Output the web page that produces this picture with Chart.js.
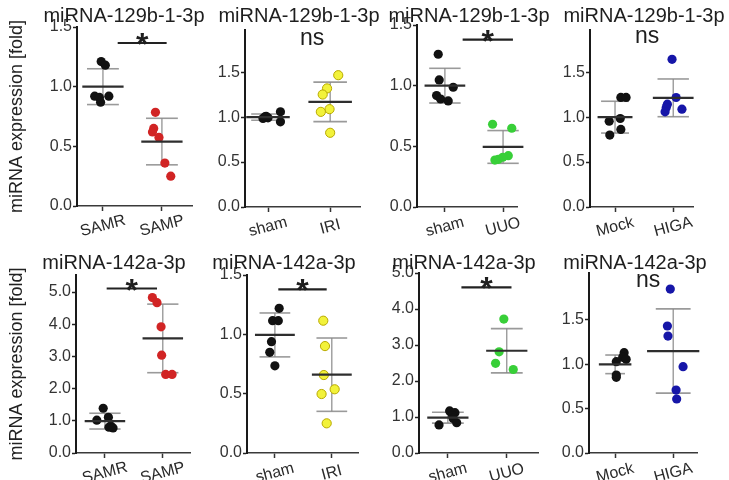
<!DOCTYPE html>
<html>
<head>
<meta charset="utf-8">
<script src="https://cdn.jsdelivr.net/npm/chart.js@4.4.0/dist/chart.umd.min.js"></script>
<style>
  body { margin: 0; background: #fff; width: 729px; height: 480px; position: relative; overflow: hidden; }
  .painel { position: absolute; }
</style>
</head>
<body>
<div id="figura"></div>
<script>
// ===== DADOS =====
const TIT_129 = 'miRNA-129b-1-3p';
const TIT_142 = 'miRNA-142a-3p';
const EIXO_Y = 'miRNA expression [fold]';

// painel 1 - SAMR x SAMP (129b)
const p1Grupos = ['SAMR', 'SAMP'];
const p1A    = [1.21, 1.18, 0.92, 0.91, 0.92, 0.87];
const p1AJit = [-0.03, 0.04, -0.14, -0.06, 0.10, -0.04];
const p1B    = [0.785, 0.65, 0.62, 0.575, 0.36, 0.25];
const p1BJit = [-0.11, -0.14, -0.16, -0.05, 0.05, 0.15];
const p1Media = [1.0, 0.54];
const p1DP    = [0.15, 0.195];
const p1Sig   = ['*', 1.25, 2.08, 1.366];

// painel 2 - sham x IRI (129b)
const p2Grupos = ['sham', 'IRI'];
const p2A    = [0.986, 1.003, 0.992, 1.01, 1.059, 0.948];
const p2AJit = [-0.08, -0.05, 0.0, -0.03, 0.2, 0.2];
const p2B    = [1.467, 1.32, 1.252, 1.089, 1.059, 0.826];
const p2BJit = [0.13, -0.05, -0.12, -0.01, -0.15, 0.0];
const p2Media = [1.0, 1.17];
const p2DP    = [0.035, 0.22];
const p2Sig   = ['ns', 1.71, 1.71, 1.8];

// painel 3 - sham x UUO (129b)
const p3Grupos = ['sham', 'UUO'];
const p3A    = [1.259, 1.047, 0.987, 0.918, 0.89, 0.874];
const p3AJit = [-0.115, -0.098, 0.143, -0.143, -0.074, 0.057];
const p3B    = [0.682, 0.649, 0.423, 0.41, 0.393, 0.387];
const p3BJit = [-0.18, 0.15, 0.09, -0.005, -0.08, -0.14];
const p3Media = [1.0, 0.495];
const p3DP    = [0.143, 0.135];
const p3Sig   = ['*', 1.305, 2.17, 1.38];

// painel 4 - Mock x HIGA (129b)
const p4Grupos = ['Mock', 'HIGA'];
const p4A    = [1.22, 1.22, 0.985, 0.955, 0.863, 0.80];
const p4AJit = [0.1, 0.19, 0.09, -0.1, 0.1, -0.09];
const p4B    = [1.644, 1.219, 1.144, 1.107, 1.089, 1.059];
const p4BJit = [-0.02, 0.05, -0.1, -0.12, 0.15, -0.14];
const p4Media = [1.0, 1.215];
const p4DP    = [0.177, 0.21];
const p4Sig   = ['ns', 1.55, 1.55, 1.83];

// painel 5 - SAMR x SAMP (142a)
const p5Grupos = ['SAMR', 'SAMP'];
const p5A    = [1.39, 1.02, 1.11, 0.84, 0.80, 0.78];
const p5AJit = [-0.03, -0.14, 0.06, 0.1, 0.07, 0.14];
const p5B    = [4.83, 4.67, 3.92, 3.04, 2.44, 2.44];
const p5BJit = [-0.18, -0.1, -0.03, -0.02, 0.05, 0.16];
const p5Media = [0.99, 3.56];
const p5DP    = [0.245, 1.065];
const p5Sig   = ['*', 1.03, 1.9, 5.11];

// painel 6 - sham x IRI (142a)
const p6Grupos = ['sham', 'IRI'];
const p6A    = [1.219, 1.115, 1.115, 0.938, 0.848, 0.735];
const p6AJit = [0.075, -0.04, 0.06, -0.06, -0.09, 0.0];
const p6B    = [1.115, 0.901, 0.657, 0.537, 0.497, 0.25];
const p6BJit = [-0.15, -0.12, -0.14, 0.05, -0.18, -0.09];
const p6Media = [0.995, 0.66];
const p6DP    = [0.185, 0.309];
const p6Sig   = ['*', 1.06, 1.91, 1.379];

// painel 7 - sham x UUO (142a)
const p7Grupos = ['sham', 'UUO'];
const p7A    = [1.17, 1.12, 1.04, 0.96, 0.84, 0.78];
const p7AJit = [0.03, 0.12, 0.08, 0.09, 0.15, -0.15];
const p7B    = [3.72, 2.81, 2.49, 2.32];
const p7BJit = [-0.05, -0.13, -0.19, 0.11];
const p7Media = [0.98, 2.84];
const p7DP    = [0.15, 0.615];
const p7Sig   = ['*', 1.23, 2.08, 4.6];

// painel 8 - Mock x HIGA (142a)
const p8Grupos = ['Mock', 'HIGA'];
const p8A    = [1.131, 1.079, 1.056, 1.03, 0.879, 0.853];
const p8AJit = [0.155, 0.13, 0.19, 0.02, 0.02, 0.02];
const p8B    = [1.849, 1.432, 1.319, 0.973, 0.71, 0.609];
const p8BJit = [-0.05, -0.1, -0.09, 0.17, 0.05, 0.06];
const p8Media = [1.0, 1.15];
const p8DP    = [0.105, 0.475];
const p8Sig   = ['ns', 1.57, 1.57, 1.875];

// ===== CORES =====
const PRETO    = { fill: '#111111', borda: '#111111', bw: 0 };
const VERMELHO = { fill: '#d12424', borda: '#d12424', bw: 0 };
const AMARELO  = { fill: '#f2f23a', borda: '#b8a900', bw: 1 };
const VERDE    = { fill: '#38cf38', borda: '#38cf38', bw: 0 };
const AZUL     = { fill: '#1616a8', borda: '#1616a8', bw: 0 };
const FONTE = '"Liberation Sans", Arial, sans-serif';

// ===== PAINEIS =====
const paineis = [
  { titulo: TIT_129, grupos: p1Grupos, a: p1A, aJit: p1AJit, b: p1B, bJit: p1BJit, media: p1Media, dp: p1DP, sig: p1Sig,
    cores: [PRETO, VERMELHO], box: [0, 0, 210, 240], yW: 77, padT: 27, padR: 18, xH: 34,
    yMax: 1.5, passo: 0.5, xMin: 0.56, xMax: 2.51, titX: 124, eixoY: true },
  { titulo: TIT_129, grupos: p2Grupos, a: p2A, aJit: p2AJit, b: p2B, bJit: p2BJit, media: p2Media, dp: p2DP, sig: p2Sig,
    cores: [PRETO, AMARELO], box: [200, 0, 185, 240], yW: 45, padT: 30, padR: 25, xH: 33,
    yMax: 1.97, passo: 0.5, xMin: 0.63, xMax: 2.48, titX: 299 },
  { titulo: TIT_129, grupos: p3Grupos, a: p3A, aJit: p3AJit, b: p3B, bJit: p3BJit, media: p3Media, dp: p3DP, sig: p3Sig,
    cores: [PRETO, VERDE], box: [375, 0, 185, 240], yW: 42, padT: 25, padR: 43, xH: 33,
    yMax: 1.5, passo: 0.5, xMin: 0.52, xMax: 2.24, titX: 469 },
  { titulo: TIT_129, grupos: p4Grupos, a: p4A, aJit: p4AJit, b: p4B, bJit: p4BJit, media: p4Media, dp: p4DP, sig: p4Sig,
    cores: [PRETO, AZUL], box: [550, 0, 179, 240], yW: 40, padT: 30, padR: 36, xH: 33,
    yMax: 1.97, passo: 0.5, xMin: 0.57, xMax: 2.34, titX: 644, hwMedia: [0.3, 0.35], hwDP: [0.24, 0.27] },
  { titulo: TIT_142, grupos: p5Grupos, a: p5A, aJit: p5AJit, b: p5B, bJit: p5BJit, media: p5Media, dp: p5DP, sig: p5Sig,
    cores: [PRETO, VERMELHO], box: [0, 240, 210, 240], yW: 76, padT: 35, padR: 20, xH: 27,
    yMax: 5.53, passo: 1, xMin: 0.5, xMax: 2.47, titX: 114, eixoY: true },
  { titulo: TIT_142, grupos: p6Grupos, a: p6A, aJit: p6AJit, b: p6B, bJit: p6BJit, media: p6Media, dp: p6DP, sig: p6Sig,
    cores: [PRETO, AMARELO], box: [200, 240, 185, 240], yW: 47, padT: 35, padR: 27, xH: 27,
    yMax: 1.5, passo: 0.5, xMin: 0.51, xMax: 2.46, titX: 284 },
  { titulo: TIT_142, grupos: p7Grupos, a: p7A, aJit: p7AJit, b: p7B, bJit: p7BJit, media: p7Media, dp: p7DP, sig: p7Sig,
    cores: [PRETO, VERDE], box: [375, 240, 185, 240], yW: 44, padT: 33, padR: 22, xH: 27,
    yMax: 5.0, passo: 1, xMin: 0.51, xMax: 2.53, titX: 464 },
  { titulo: TIT_142, grupos: p8Grupos, a: p8A, aJit: p8AJit, b: p8B, bJit: p8BJit, media: p8Media, dp: p8DP, sig: p8Sig,
    cores: [PRETO, AZUL], box: [550, 240, 179, 240], yW: 39, padT: 33, padR: 32, xH: 27,
    yMax: 2.03, tickMax: 1.5, passo: 0.5, xMin: 0.55, xMax: 2.41, titX: 635, hwMedia: [0.28, 0.45], hwDP: [0.17, 0.3] },
];

// ===== HELPERS =====
function seg(x1, y1, x2, y2, cor, larg, ordem) {
  return {
    data: [{ x: x1, y: y1 }, { x: x2, y: y2 }],
    showLine: true, borderColor: cor, borderWidth: larg,
    pointRadius: 0, order: ordem, clip: false,
  };
}

function pontos(vals, jit, g, cor) {
  return {
    data: vals.map((v, i) => ({ x: g + jit[i], y: v })),
    backgroundColor: cor.fill, borderColor: cor.borda, borderWidth: cor.bw,
    pointRadius: 4.6, order: 2, clip: false,
  };
}

function montarDatasets(p) {
  const hwM = p.hwMedia || [0.35, 0.35];
  const hwD = p.hwDP || [0.27, 0.27];
  const ds = [];
  [1, 2].forEach((g, i) => {
    const m = p.media[i], s = p.dp[i];
    ds.push(seg(g, m - s, g, m + s, '#8a8a8a', 1.2, 3));
    ds.push(seg(g - hwD[i], m + s, g + hwD[i], m + s, '#9a9a9a', 1.6, 3));
    ds.push(seg(g - hwD[i], m - s, g + hwD[i], m - s, '#9a9a9a', 1.6, 3));
    ds.push(seg(g - hwM[i], m, g + hwM[i], m, '#2e2e2e', 2.2, 1));
  });
  ds.push(pontos(p.a, p.aJit, 1, p.cores[0]));
  ds.push(pontos(p.b, p.bJit, 2, p.cores[1]));
  if (p.sig[0] === '*') {
    ds.push(seg(p.sig[1], p.sig[3], p.sig[2], p.sig[3], '#222', 2.2, 0));
  }
  return ds;
}

// textos: titulo, categorias inclinadas, asterisco / ns
function pluginTextos(p) {
  return {
    id: 'textos',
    afterDatasetsDraw(chart) {
      const { ctx } = chart;
      const x = chart.scales.x, y = chart.scales.y;
      ctx.save();
      ctx.fillStyle = '#1e1e1e';
      ctx.textAlign = 'center';
      ctx.textBaseline = 'alphabetic';
      ctx.font = '20px ' + FONTE;
      ctx.fillText(p.titulo, p.titX - p.box[0], p.box[1] === 0 ? 22 : 29);

      ctx.font = '16px ' + FONTE;
      ctx.fillStyle = '#2a2a2a';
      p.grupos.forEach((nome, i) => {
        ctx.save();
        ctx.translate(x.getPixelForValue(i + 1), y.getPixelForValue(0) + 20);
        ctx.rotate(-15 * Math.PI / 180);
        ctx.textBaseline = 'middle';
        ctx.fillText(nome, 0, 0);
        ctx.restore();
      });

      ctx.fillStyle = '#1e1e1e';
      const sx = x.getPixelForValue((p.sig[1] + p.sig[2]) / 2);
      const sy = y.getPixelForValue(p.sig[3]);
      if (p.sig[0] === '*') {
        ctx.font = 'bold 32px ' + FONTE;
        ctx.fillText('*', sx, sy + 12);
      } else {
        ctx.font = '23px ' + FONTE;
        ctx.fillText(p.sig[0], sx, sy);
      }
      ctx.restore();
    }
  };
}

// ===== RENDER =====
const figura = document.getElementById('figura');

paineis.forEach((p, idx) => {
  const div = document.createElement('div');
  div.className = 'painel';
  div.style.left = p.box[0] + 'px';
  div.style.top = p.box[1] + 'px';
  div.style.width = p.box[2] + 'px';
  div.style.height = p.box[3] + 'px';
  const cv = document.createElement('canvas');
  cv.id = 'c' + (idx + 1);
  div.appendChild(cv);
  figura.appendChild(div);

  const topoTicks = p.tickMax || p.yMax;

  new Chart(cv.getContext('2d'), {
    type: 'scatter',
    data: { datasets: montarDatasets(p) },
    options: {
      responsive: true,
      maintainAspectRatio: false,
      animation: false,
      events: [],
      layout: { padding: { left: 0, top: p.padT, right: p.padR, bottom: 0 } },
      plugins: { legend: { display: false }, tooltip: { enabled: false }, title: { display: false } },
      scales: {
        x: {
          type: 'linear', min: p.xMin, max: p.xMax,
          afterBuildTicks: ax => { ax.ticks = [{ value: 1 }, { value: 2 }]; },
          afterFit: ax => { ax.height = p.xH; },
          ticks: { display: false },
          grid: { display: true, drawOnChartArea: false, drawTicks: true, tickLength: 5, tickColor: '#333', tickWidth: 1.5 },
          border: { display: true, color: '#3a3a3a', width: 1.6 },
        },
        y: {
          type: 'linear', min: 0, max: p.yMax,
          afterBuildTicks: ax => {
            const lista = [];
            for (let k = 0; k * p.passo <= topoTicks + 1e-9; k++) lista.push({ value: k * p.passo });
            ax.ticks = lista;
          },
          afterFit: ax => { ax.width = p.yW; },
          ticks: {
            stepSize: p.passo, padding: 1, color: '#333',
            font: { family: FONTE, size: 16 },
            callback: v => Number(v).toFixed(1),
          },
          grid: { display: true, drawOnChartArea: false, drawTicks: true, tickLength: 4, tickColor: '#222', tickWidth: 1.5 },
          border: { display: true, color: '#1a1a1a', width: 2 },
          title: {
            display: !!p.eixoY, text: EIXO_Y, color: '#222',
            font: { family: FONTE, size: 18 }, padding: { top: 6, bottom: 0 },
          },
        }
      }
    },
    plugins: [pluginTextos(p)]
  });
});
</script>
</body>
</html>
